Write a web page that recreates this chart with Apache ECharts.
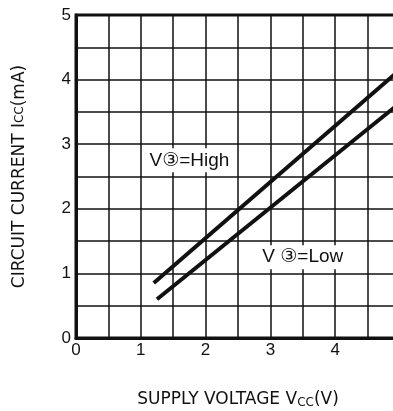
<!DOCTYPE html>
<html><head><meta charset="utf-8">
<script src="https://cdn.jsdelivr.net/npm/echarts@6/dist/echarts.min.js"></script>
<style>html,body{margin:0;padding:0;background:#fff;overflow:hidden}#c{width:400px;height:411px}</style>
</head><body><div id="c"></div>
<script>
const highX = [1.2, 4.95];
const highY = [0.85, 4.11];
const lowX = [1.25, 4.95];
const lowY = [0.6, 3.6];
const xTickLabels = ['0', '1', '2', '3', '4'];
const yTickLabels = ['0', '1', '2', '3', '4', '5'];
const highLabel = {text: 'V③=High', x: 1.75, y: 2.75};
const lowLabel = {text: 'V ③=Low', x: 3.5, y: 1.25};

const NARROW = '"Liberation Sans Narrow", "Liberation Sans", "DejaVu Sans", "Noto Sans CJK JP", sans-serif';
const WIDE = '"DejaVu Sans", "Liberation Sans", sans-serif';
const chart = echarts.init(document.getElementById('c'));
function pairs(xs, ys){ return xs.map((x,i)=>[x, ys[i]]); }
function pick(list){ return v => { const i = list.indexOf(String(v)); return i >= 0 ? list[i] : ''; }; }
const labelStyle = {show: true, position: 'inside', color: '#111', fontSize: 19, fontFamily: NARROW,
  backgroundColor: '#fff', padding: [3, 6, 2, 6], formatter: p => p.name};
chart.setOption({
  backgroundColor: '#fff',
  animation: false,
  grid: {left: 76, top: 15, right: 0, bottom: 73, containLabel: false, outerBoundsMode: 'none',
    show: true, borderColor: '#111', borderWidth: 3, backgroundColor: 'transparent'},
  xAxis: {
    type: 'value', min: 0, max: 5, interval: 0.5,
    axisLine: {show: true, lineStyle: {color: '#111', width: 3}},
    axisTick: {show: false},
    splitLine: {show: true, lineStyle: {color: '#111', width: 1.5}},
    axisLabel: {color: '#111', fontSize: 17, fontFamily: NARROW, margin: 4, formatter: pick(xTickLabels)},
    name: 'SUPPLY VOLTAGE V{s|CC}(V)', nameLocation: 'middle', nameGap: 52,
    nameTextStyle: {color: '#111', fontSize: 17, fontFamily: WIDE, rich: {s: {fontSize: 12, verticalAlign: 'bottom', padding: [7,0,0,0], color: '#111', fontFamily: WIDE}}}
  },
  yAxis: {
    type: 'value', min: 0, max: 5, interval: 0.5,
    axisLine: {show: true, lineStyle: {color: '#111', width: 3}},
    axisTick: {show: false},
    splitLine: {show: true, lineStyle: {color: '#111', width: 1.5}},
    axisLabel: {color: '#111', fontSize: 17, fontFamily: NARROW, margin: 5, formatter: pick(yTickLabels)},
    name: 'CIRCUIT CURRENT I{s|CC}(mA)', nameLocation: 'middle', nameGap: 48,
    nameTextStyle: {color: '#111', fontSize: 17, fontFamily: WIDE, rich: {s: {fontSize: 12, color: '#111', fontFamily: WIDE}}}
  },
  series: [
    {type: 'line', data: pairs(highX, highY), symbol: 'none', lineStyle: {color: '#111', width: 4}, z: 5,
      markPoint: {symbol: 'rect', symbolSize: 1, itemStyle: {color: 'transparent'}, label: labelStyle,
        data: [{name: highLabel.text, coord: [highLabel.x, highLabel.y]}]}},
    {type: 'line', data: pairs(lowX, lowY), symbol: 'none', lineStyle: {color: '#111', width: 4}, z: 5,
      markPoint: {symbol: 'rect', symbolSize: 1, itemStyle: {color: 'transparent'}, label: labelStyle,
        data: [{name: lowLabel.text, coord: [lowLabel.x, lowLabel.y]}]}}
  ]
});
</script></body></html>
